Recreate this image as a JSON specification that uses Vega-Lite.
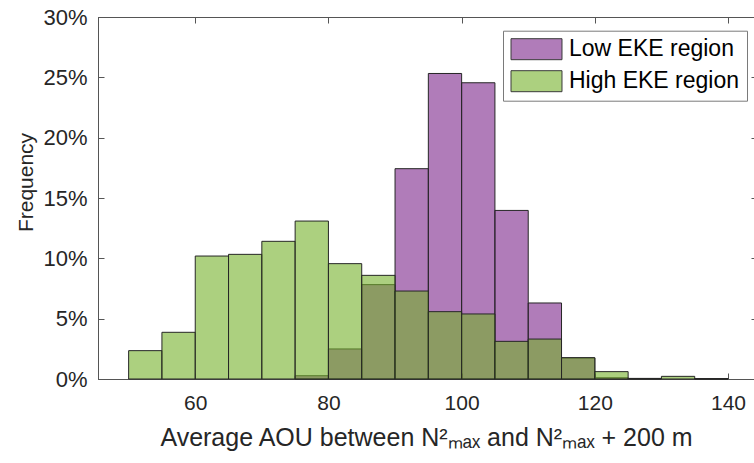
{
  "$schema": "https://vega.github.io/schema/vega-lite/v6.json",
  "width": 656,
  "height": 362,
  "autosize": {"type": "none"},
  "padding": {"left": 98, "top": 17, "right": 0, "bottom": 84},
  "background": "white",
  "config": {
    "view": {"stroke": "#555555", "strokeWidth": 1},
    "font": "Liberation Sans",
    "axis": {
      "grid": false,
      "domainColor": "#555555",
      "domainWidth": 1,
      "tickColor": "#555555",
      "tickWidth": 1,
      "labelFont": "Liberation Sans",
      "labelColor": "#262626",
      "titleFont": "Liberation Sans",
      "titleColor": "#262626",
      "titleFontWeight": "normal"
    },
    "legend": {
      "orient": "none",
      "legendX": 405,
      "legendY": 13.7,
      "title": null,
      "symbolType": "M-1,-1H3.857V1H-1Z",
      "symbolSize": 441,
      "symbolStrokeColor": "#3a3a3a",
      "symbolStrokeWidth": 1,
      "labelFont": "Liberation Sans",
      "labelFontSize": 23,
      "labelColor": "#000000",
      "labelOffset": 36,
      "labelLimit": 400,
      "rowPadding": 7,
      "padding": 7,
      "strokeColor": "#7a7a7a",
      "fillColor": "white",
      "cornerRadius": 0
    }
  },
  "data": {
    "values": [
      {"region": "Low EKE region", "start": 75, "end": 80, "pct": 0.27},
      {"region": "Low EKE region", "start": 80, "end": 85, "pct": 2.49},
      {"region": "Low EKE region", "start": 85, "end": 90, "pct": 7.82},
      {"region": "Low EKE region", "start": 90, "end": 95, "pct": 17.43},
      {"region": "Low EKE region", "start": 95, "end": 100, "pct": 25.32},
      {"region": "Low EKE region", "start": 100, "end": 105, "pct": 24.55},
      {"region": "Low EKE region", "start": 105, "end": 110, "pct": 13.97},
      {"region": "Low EKE region", "start": 110, "end": 115, "pct": 6.3},
      {"region": "Low EKE region", "start": 115, "end": 120, "pct": 1.74},
      {"region": "Low EKE region", "start": 120, "end": 125, "pct": 0.1},
      {"region": "Low EKE region", "start": 125, "end": 130, "pct": 0.04},
      {"region": "Low EKE region", "start": 135, "end": 140, "pct": 0.03},
      {"region": "High EKE region", "start": 50, "end": 55, "pct": 2.35},
      {"region": "High EKE region", "start": 55, "end": 60, "pct": 3.87},
      {"region": "High EKE region", "start": 60, "end": 65, "pct": 10.19},
      {"region": "High EKE region", "start": 65, "end": 70, "pct": 10.33},
      {"region": "High EKE region", "start": 70, "end": 75, "pct": 11.41},
      {"region": "High EKE region", "start": 75, "end": 80, "pct": 13.09},
      {"region": "High EKE region", "start": 80, "end": 85, "pct": 9.56},
      {"region": "High EKE region", "start": 85, "end": 90, "pct": 8.59},
      {"region": "High EKE region", "start": 90, "end": 95, "pct": 7.29},
      {"region": "High EKE region", "start": 95, "end": 100, "pct": 5.58},
      {"region": "High EKE region", "start": 100, "end": 105, "pct": 5.39},
      {"region": "High EKE region", "start": 105, "end": 110, "pct": 3.12},
      {"region": "High EKE region", "start": 110, "end": 115, "pct": 3.31},
      {"region": "High EKE region", "start": 115, "end": 120, "pct": 1.77},
      {"region": "High EKE region", "start": 120, "end": 125, "pct": 0.61},
      {"region": "High EKE region", "start": 125, "end": 130, "pct": 0.05},
      {"region": "High EKE region", "start": 130, "end": 135, "pct": 0.22},
      {"region": "High EKE region", "start": 135, "end": 140, "pct": 0.03}
    ]
  },
  "layer": [
    {
      "transform": [{"filter": "datum.region === 'Low EKE region'"}],
      "mark": {"type": "bar", "fillOpacity": 0.6, "stroke": "#262626", "strokeWidth": 1},
      "encoding": {
        "x": {
          "field": "start", "type": "quantitative",
          "scale": {"domain": [45.4, 143.9], "nice": false, "zero": false},
          "axis": {
            "orient": "bottom",
            "values": [60, 80, 100, 120, 140],
            "tickSize": -6,
            "labelFontSize": 21,
            "labelPadding": 19,
            "title": "Average AOU between N²ₘₐₓ and N²ₘₐₓ + 200 m",
            "titleFontSize": 25,
            "titlePadding": 12
          }
        },
        "x2": {"field": "end"},
        "y": {
          "field": "pct", "type": "quantitative", "stack": null,
          "scale": {"domain": [0, 30], "nice": false},
          "axis": {
            "orient": "left",
            "values": [0, 5, 10, 15, 20, 25, 30],
            "labelExpr": "datum.value + '%'",
            "tickSize": -6,
            "labelFontSize": 22,
            "labelPadding": 17,
            "title": "Frequency",
            "titleFontSize": 21,
            "titlePadding": 6,
            "titleY": 165
          }
        },
        "y2": {"datum": 0},
        "color": {
          "field": "region", "type": "nominal",
          "scale": {"domain": ["Low EKE region", "High EKE region"], "range": ["#7b258a", "#75b12a"]},
          "legend": {
            "encode": {"symbols": {"update": {"fillOpacity": {"value": 0.6}, "strokeOpacity": {"value": 1}}}}
          }
        }
      }
    },
    {
      "transform": [{"filter": "datum.region === 'High EKE region'"}],
      "mark": {"type": "bar", "fillOpacity": 0.6, "stroke": "#262626", "strokeWidth": 1},
      "encoding": {
        "x": {
          "field": "start", "type": "quantitative",
          "scale": {"domain": [45.4, 143.9], "nice": false, "zero": false},
          "axis": {"orient": "top", "values": [60, 80, 100, 120, 140], "tickSize": -6, "labels": false, "title": null}
        },
        "x2": {"field": "end"},
        "y": {
          "field": "pct", "type": "quantitative", "stack": null,
          "scale": {"domain": [0, 30], "nice": false},
          "axis": {"orient": "right", "values": [0, 5, 10, 15, 20, 25, 30], "tickSize": -3, "labels": false, "title": null}
        },
        "y2": {"datum": 0},
        "color": {
          "field": "region", "type": "nominal",
          "scale": {"domain": ["Low EKE region", "High EKE region"], "range": ["#7b258a", "#75b12a"]},
          "legend": {
            "encode": {"symbols": {"update": {"fillOpacity": {"value": 0.6}, "strokeOpacity": {"value": 1}}}}
          }
        }
      }
    }
  ],
  "resolve": {"axis": {"x": "independent", "y": "independent"}}
}
